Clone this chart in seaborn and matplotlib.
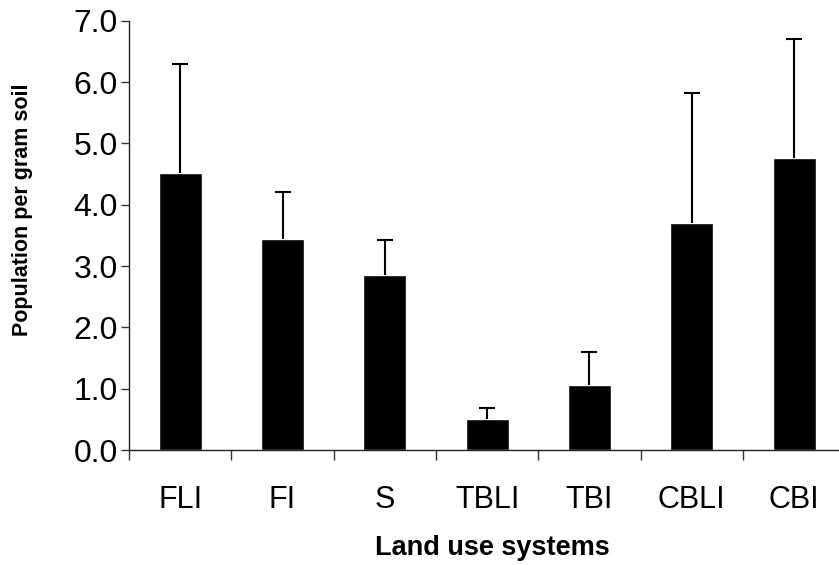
import matplotlib
matplotlib.use("Agg")
import matplotlib.pyplot as plt
import numpy as np
import pandas as pd
import seaborn as sns
from matplotlib.ticker import FixedLocator, FormatStrFormatter

sns.set_style("ticks")
plt.rcParams["font.family"] = ["Liberation Sans", "DejaVu Sans"]
plt.rcParams["text.color"] = "black"
plt.rcParams["axes.labelcolor"] = "black"
plt.rcParams["xtick.color"] = "black"
plt.rcParams["ytick.color"] = "black"

# values
systems = ["FLI", "FI", "S", "TBLI", "TBI", "CBLI", "CBI"]
population = [4.52, 3.44, 2.85, 0.50, 1.06, 3.70, 4.76]
upper_err = [1.77, 0.77, 0.58, 0.18, 0.54, 2.12, 1.94]

df = pd.DataFrame({"system": systems, "population": population})

fig = plt.figure(figsize=(8.39, 5.65), dpi=100)
ax = fig.add_axes([0.1538, 0.2035, 0.8536, 0.7599])

sns.barplot(data=df, x="system", y="population", color="black", width=0.42,
            errorbar=None, saturation=1, ax=ax)
# one-sided (upper) error bars: hide the cap on the zero-length lower side
_, caps, _ = ax.errorbar(np.arange(len(systems)), population,
                         yerr=[np.zeros(len(systems)), upper_err],
                         fmt="none", ecolor="black", elinewidth=1.5,
                         capsize=6, capthick=1.5)
caps[0].set_visible(False)

ax.set_xlim(-0.5, len(systems) - 0.5)
ax.set_ylim(0, 7)
ax.set_yticks(np.arange(0, 8, 1))
ax.yaxis.set_major_formatter(FormatStrFormatter("%.1f"))

# boundaries between categories carry the visible x ticks
ax.xaxis.set_minor_locator(FixedLocator(np.arange(-0.5, len(systems), 1)))
ax.tick_params(axis="x", which="major", length=0, pad=25, labelsize=22)
ax.tick_params(axis="x", which="minor", length=7, width=1, direction="out", color="#333333")
ax.tick_params(axis="y", length=6, width=1, pad=2, labelsize=23, color="#333333")

ax.set_xlabel("Land use systems", fontsize=19.5, fontweight="bold")
ax.set_ylabel("Population per gram soil", fontsize=15.5, fontweight="bold")
ax.xaxis.set_label_coords(0.508, -0.198)
ax.yaxis.set_label_coords(-0.134, 0.559)

sns.despine(ax=ax)
for side in ["left", "bottom"]:
    ax.spines[side].set_linewidth(1)
    ax.spines[side].set_color("#222222")

fig.savefig("out.png", dpi=100)
